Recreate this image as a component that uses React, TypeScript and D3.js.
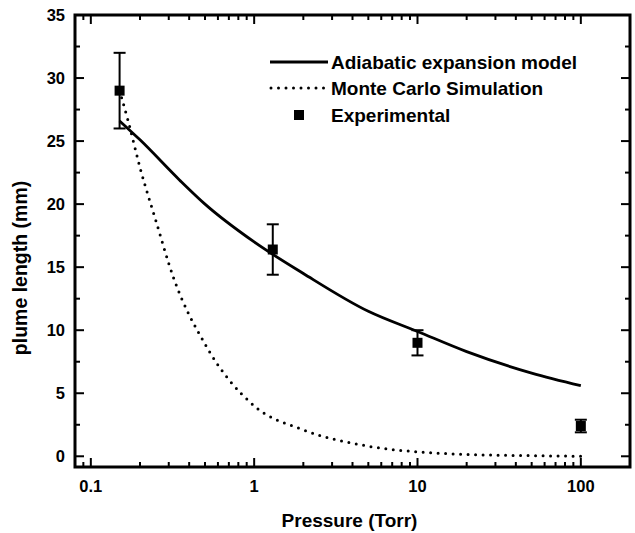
import { useEffect, useRef } from 'react';
import * as d3 from 'd3';

// Adiabatic expansion model (solid line)
const adiabaticPressure = [0.15, 0.2, 0.35, 0.5, 1, 2, 5, 10, 20, 50, 100];
const adiabaticLength = [26.6, 25.1, 21.9, 20.0, 17.0, 14.5, 11.5, 9.9, 8.3, 6.6, 5.6];

// Monte Carlo simulation (dotted line)
const monteCarloPressure = [0.15, 0.17, 0.2, 0.25, 0.32, 0.5, 1, 2, 5, 10, 20, 50, 100];
const monteCarloLength = [29.0, 26.5, 22.9, 18.7, 14.2, 8.9, 4.0, 2.1, 0.8, 0.35, 0.15, 0.05, 0.0];

// Experimental points with error bars
const expPressure = [0.15, 1.3, 10, 100];
const expLength = [29.0, 16.4, 9.0, 2.4];
const expError = [3.0, 2.0, 1.0, 0.5];

const xMajorTicks = [0.1, 1, 10, 100];
const yMajorTicks = [0, 5, 10, 15, 20, 25, 30, 35];

const FONT = '"Liberation Sans", Arial, Helvetica, sans-serif';

export default function App() {
  const ref = useRef<SVGSVGElement>(null);

  useEffect(() => {
    if (!ref.current) return;
    const width = 635;
    const height = 533;
    const margin = { top: 15, right: 5, bottom: 66, left: 75 };
    const innerW = width - margin.left - margin.right;
    const innerH = height - margin.top - margin.bottom;

    const svg = d3.select(ref.current);
    svg.selectAll('*').remove();

    const g = svg.append('g').attr('transform', `translate(${margin.left},${margin.top})`);

    const x = d3.scaleLog().domain([0.08, 200]).range([0, innerW]);
    const y = d3.scaleLinear().domain([-0.85, 35]).range([innerH, 0]);

    // minor x ticks: 2..9 per decade
    const xMinor: number[] = [];
    [0.01, 0.1, 1, 10, 100].forEach(dec => {
      for (let k = 1; k <= 9; k++) {
        const v = dec * k;
        if (v >= 0.08 && v <= 200 && !xMajorTicks.includes(v)) xMinor.push(v);
      }
    });
    const yMinor = d3.range(2.5, 35, 5);

    const tickStroke = 2;
    const majorLen = 9;
    const minorLen = 5;

    // bottom + top ticks
    const drawXTicks = (vals: number[], len: number) => {
      vals.forEach(v => {
        const px = x(v);
        g.append('line').attr('x1', px).attr('x2', px).attr('y1', innerH).attr('y2', innerH - len)
          .attr('stroke', '#000').attr('stroke-width', tickStroke);
        g.append('line').attr('x1', px).attr('x2', px).attr('y1', 0).attr('y2', len)
          .attr('stroke', '#000').attr('stroke-width', tickStroke);
      });
    };
    drawXTicks(xMajorTicks, majorLen);
    drawXTicks(xMinor, minorLen);

    // left + right ticks
    const drawYTicks = (vals: number[], len: number) => {
      vals.forEach(v => {
        const py = y(v);
        g.append('line').attr('x1', 0).attr('x2', len).attr('y1', py).attr('y2', py)
          .attr('stroke', '#000').attr('stroke-width', tickStroke);
        g.append('line').attr('x1', innerW).attr('x2', innerW - len).attr('y1', py).attr('y2', py)
          .attr('stroke', '#000').attr('stroke-width', tickStroke);
      });
    };
    drawYTicks(yMajorTicks, majorLen);
    drawYTicks(yMinor, minorLen);

    // frame
    g.append('rect').attr('x', 0).attr('y', 0).attr('width', innerW).attr('height', innerH)
      .attr('fill', 'none').attr('stroke', '#000').attr('stroke-width', 3);

    // tick labels
    g.selectAll('.xlabel').data(xMajorTicks).join('text')
      .attr('x', d => x(d)).attr('y', innerH + 25)
      .attr('text-anchor', 'middle')
      .attr('font-family', FONT).attr('font-weight', 'bold').attr('font-size', 16.5)
      .text(d => String(d));

    g.selectAll('.ylabel').data(yMajorTicks).join('text')
      .attr('x', -10).attr('y', d => y(d) + 6)
      .attr('text-anchor', 'end')
      .attr('font-family', FONT).attr('font-weight', 'bold').attr('font-size', 16.5)
      .text(d => String(d));

    // axis titles
    svg.append('text')
      .attr('x', margin.left + x(Math.sqrt(0.08 * 200)) - 3)
      .attr('y', 527)
      .attr('text-anchor', 'middle')
      .attr('font-family', FONT).attr('font-weight', 'bold').attr('font-size', 19)
      .text('Pressure (Torr)');

    svg.append('text')
      .attr('transform', `translate(27,${margin.top + innerH / 2 + 27}) rotate(-90)`)
      .attr('text-anchor', 'middle')
      .attr('font-family', FONT).attr('font-weight', 'bold').attr('font-size', 19.5)
      .text('plume length (mm)');

    // lines
    const line = d3.line<[number, number]>()
      .x(d => x(d[0]))
      .y(d => y(d[1]))
      .curve(d3.curveMonotoneX);

    const adiabatic: [number, number][] = adiabaticPressure.map((p, i) => [p, adiabaticLength[i]]);
    const monteCarlo: [number, number][] = monteCarloPressure.map((p, i) => [p, monteCarloLength[i]]);

    g.append('path').datum(monteCarlo)
      .attr('d', line).attr('fill', 'none').attr('stroke', '#000')
      .attr('stroke-width', 3).attr('stroke-linecap', 'round').attr('stroke-dasharray', '0 7.5');

    g.append('path').datum(adiabatic)
      .attr('d', line).attr('fill', 'none').attr('stroke', '#000')
      .attr('stroke-width', 2.8);

    // experimental points
    const cap = 6;
    expPressure.forEach((p, i) => {
      const px = x(p);
      const top = y(expLength[i] + expError[i]);
      const bot = y(expLength[i] - expError[i]);
      g.append('line').attr('x1', px).attr('x2', px).attr('y1', top).attr('y2', bot)
        .attr('stroke', '#000').attr('stroke-width', 2);
      [top, bot].forEach(cy => {
        g.append('line').attr('x1', px - cap).attr('x2', px + cap).attr('y1', cy).attr('y2', cy)
          .attr('stroke', '#000').attr('stroke-width', 2);
      });
      g.append('rect').attr('x', px - 5).attr('y', y(expLength[i]) - 5)
        .attr('width', 10).attr('height', 10).attr('fill', '#000');
    });

    // legend
    const lg = svg.append('g');
    const rows = [
      { label: 'Adiabatic expansion model', y: 62 },
      { label: 'Monte Carlo Simulation', y: 88 },
      { label: 'Experimental', y: 115 },
    ];
    lg.append('line').attr('x1', 270).attr('x2', 328).attr('y1', rows[0].y).attr('y2', rows[0].y)
      .attr('stroke', '#000').attr('stroke-width', 2.8);
    lg.append('line').attr('x1', 271).attr('x2', 324).attr('y1', rows[1].y).attr('y2', rows[1].y)
      .attr('stroke', '#000').attr('stroke-width', 3).attr('stroke-linecap', 'round')
      .attr('stroke-dasharray', '0 7.5');
    lg.append('rect').attr('x', 294).attr('y', rows[2].y - 5).attr('width', 10).attr('height', 10)
      .attr('fill', '#000');
    rows.forEach(r => {
      lg.append('text').attr('x', 331).attr('y', r.y + 7)
        .attr('font-family', FONT).attr('font-weight', 'bold').attr('font-size', 19)
        .text(r.label);
    });
  }, []);

  return (
    <svg
      ref={ref}
      width={635}
      height={533}
      style={{ position: 'absolute', left: 0, top: 0, background: '#fff' }}
    />
  );
}
